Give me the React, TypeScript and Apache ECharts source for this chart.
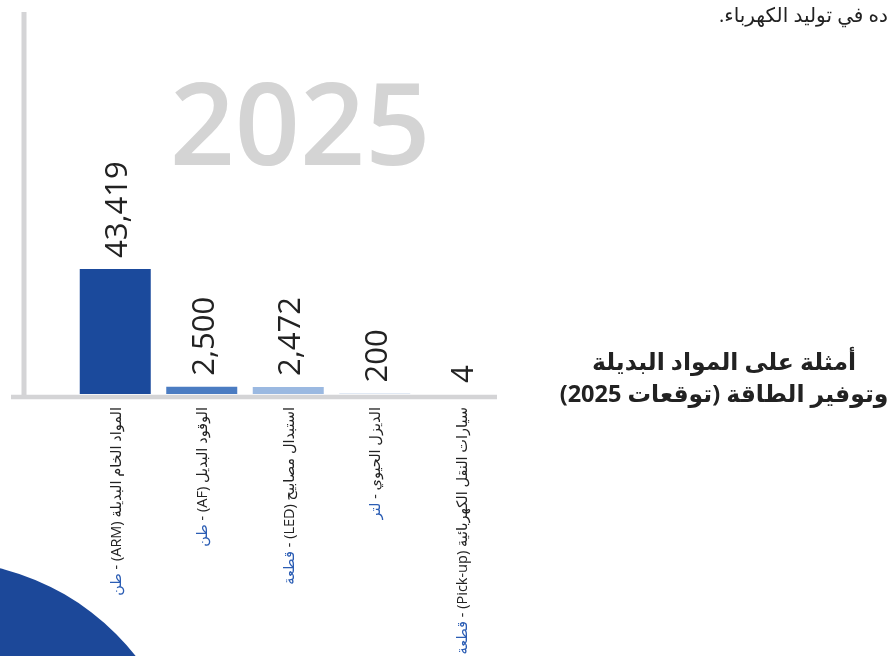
import React, { useEffect, useRef } from "react";
import * as echarts from "echarts";

const catNames = [
  "المواد الخام البديلة",
  "الوقود البديل",
  "استبدال مصابيح",
  "الديزل الحيوي",
  "سيارات النقل الكهربائية",
];
const catCodes = ["ARM", "AF", "LED", "", "Pick-up"];
const catUnits = ["طن", "طن", "قطعة", "لتر", "قطعة"];
const values = [43419, 2500, 2472, 200, 4];
const barColors = ["#1b4a9c", "#4b7cc2", "#9bb9e1", "#c3d3ea", "#dde6f2"];

const yearText = "2025";
const titleLines = ["أمثلة على المواد البديلة", "وتوفير الطاقة (توقعات 2025)"];
const topText = "ده في توليد الكهرباء.";

const FONT = "'Open Sans', 'DejaVu Sans', sans-serif";
const RLM = "\u200F";

export default function App() {
  const ref = useRef<HTMLDivElement>(null);
  useEffect(() => {
    if (!ref.current) return;
    const chart = echarts.init(ref.current, undefined, { renderer: "svg" });
    const option = {
      animation: false,
      textStyle: { fontFamily: FONT },
      grid: {
        left: 72,
        right: 385.5,
        top: 106,
        bottom: 262,
        containLabel: false,
        outerBoundsMode: "none",
      },
      xAxis: {
        type: "category",
        data: catNames,
        axisLine: { show: false },
        axisTick: { show: false },
        axisLabel: {
          interval: 0,
          rotate: 90,
          margin: 13,
          formatter: (_v: string, i: number) => {
            const mid = catCodes[i] ? " - (" + catCodes[i] + ") " : " - ";
            return "{u|" + catUnits[i] + "}{b|" + mid + "}{b|" + catNames[i] + "}";
          },
          rich: {
            b: { color: "#222", fontSize: 14.5, fontFamily: FONT },
            u: { color: "#2b5db4", fontSize: 14.5, fontFamily: FONT },
          },
        },
      },
      yAxis: { type: "value", min: 0, max: 100000, show: false },
      series: [
        {
          type: "bar",
          barWidth: 71,
          data: values.map((v, i) => ({ value: v, itemStyle: { color: barColors[i] } })),
          label: {
            show: true,
            position: "top",
            rotate: 90,
            align: "left",
            verticalAlign: "middle",
            distance: 11,
            fontSize: 31,
            color: "#222",
            fontFamily: FONT,
            formatter: (p: any) => Number(p.value).toLocaleString("en-US"),
          },
        },
      ],
      graphic: [
        {
          type: "circle",
          shape: { cx: -60, cy: 810, r: 249 },
          style: { fill: "#1c4899" },
          z: 0,
        },
        {
          type: "line",
          shape: { x1: 24, y1: 12, x2: 24, y2: 399 },
          style: { stroke: "#d4d4d6", lineWidth: 5 },
          z: 0,
        },
        {
          type: "line",
          shape: { x1: 11, y1: 397, x2: 497, y2: 397 },
          style: { stroke: "#d4d4d6", lineWidth: 4.5 },
          z: 0,
        },
        {
          type: "text",
          x: 300,
          y: 120,
          style: {
            text: yearText,
            fill: "#d4d4d4",
            fontSize: 114,
            fontWeight: 600,
            fontFamily: FONT,
            textAlign: "center",
            textVerticalAlign: "middle",
          },
          z: 0,
        },
        {
          type: "text",
          x: 724,
          y: 377,
          style: {
            text: titleLines.map((l) => RLM + l + RLM).join("\n"),
            fill: "#222",
            fontSize: 23.5,
            fontWeight: "bold",
            lineHeight: 32,
            fontFamily: FONT,
            textAlign: "center",
            textVerticalAlign: "middle",
          },
        },
        {
          type: "text",
          x: 888,
          y: 14,
          style: {
            text: RLM + topText + RLM,
            fill: "#222",
            fontSize: 20,
            fontFamily: FONT,
            textAlign: "right",
            textVerticalAlign: "middle",
          },
        },
      ],
    };
    chart.setOption(option as any);
    return () => chart.dispose();
  }, []);
  return (
    <div
      ref={ref}
      style={{ position: "fixed", left: 0, top: 0, width: 890, height: 656 }}
    />
  );
}
